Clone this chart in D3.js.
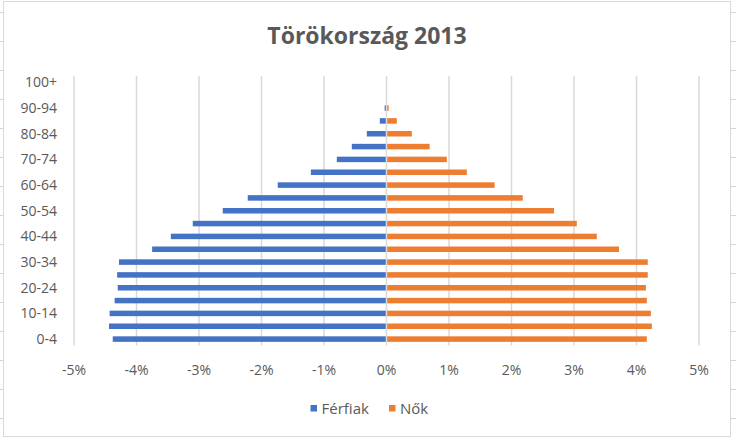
<!DOCTYPE html>
<meta charset="utf-8">
<style>
  body { margin: 0; background: #fff; font-family: "Open Sans", sans-serif; }
  .grid line { stroke: #d9d9d9; stroke-width: 1.5; }
  .tick-label { fill: #595959; font-size: 14px; }
  .title { fill: #595959; font-size: 23px; font-weight: bold; }
  .legend text { fill: #595959; font-size: 15px; }
</style>
<body>
<script src="https://d3js.org/d3.v7.min.js"></script>
<script>
var ageGroups = ["0-4", "5-9", "10-14", "15-19", "20-24", "25-29", "30-34", "35-39",
  "40-44", "45-49", "50-54", "55-59", "60-64", "65-69", "70-74", "75-79",
  "80-84", "85-89", "90-94", "95-99", "100+"];
// percent of total population, men shown on the left
var ferfiak = [-4.38, -4.44, -4.43, -4.35, -4.30, -4.31, -4.28, -3.75, -3.45, -3.10,
  -2.62, -2.22, -1.74, -1.21, -0.795, -0.555, -0.315, -0.107, -0.03, -0.004, 0];
var nok = [4.165, 4.245, 4.23, 4.165, 4.15, 4.18, 4.18, 3.72, 3.365, 3.045,
  2.68, 2.18, 1.73, 1.285, 0.965, 0.69, 0.405, 0.165, 0.035, 0.006, 0];
var xTicks = [-5, -4, -3, -2, -1, 0, 1, 2, 3, 4, 5];
var shownLabels = ["0-4", "10-14", "20-24", "30-34", "40-44", "50-54", "60-64",
  "70-74", "80-84", "90-94", "100+"];
var series = [
  { name: "Férfiak", values: ferfiak, color: "#4472C4" },
  { name: "Nők", values: nok, color: "#ED7D31" }
];

var width = 736, height = 438;

var svg = d3.select("body").append("svg")
    .attr("width", width)
    .attr("height", height);

// spreadsheet row lines peeking out beside the chart
for (var yy = 12.5; yy < height; yy += 29) {
  svg.append("line").attr("x1", 0).attr("x2", 3).attr("y1", yy).attr("y2", yy)
    .attr("stroke", "#d4d4d4");
  svg.append("line").attr("x1", 731).attr("x2", 736).attr("y1", yy).attr("y2", yy)
    .attr("stroke", "#d4d4d4");
}

svg.append("rect")
    .attr("x", 3.5).attr("y", 1.5)
    .attr("width", 727).attr("height", 435)
    .attr("fill", "#fff")
    .attr("stroke", "#d9d9d9");

var x = d3.scaleLinear()
    .domain([-5, 5])
    .range([74, 699]);

var y = d3.scaleBand()
    .domain(ageGroups.slice().reverse())
    .range([76, 345.5])
    .paddingInner(0.57)
    .paddingOuter(0.285);

svg.append("text")
    .attr("class", "title")
    .attr("x", 367)
    .attr("y", 44)
    .attr("text-anchor", "middle")
    .text("Törökország 2013");

// gridlines
svg.append("g").attr("class", "grid")
  .selectAll("line")
  .data(xTicks.filter(function(d) { return d !== 0; }))
  .enter().append("line")
    .attr("x1", function(d) { return x(d); })
    .attr("x2", function(d) { return x(d); })
    .attr("y1", 76)
    .attr("y2", 345.5);

// bars
series.forEach(function(s) {
  svg.append("g")
    .selectAll("rect")
    .data(s.values)
    .enter().append("rect")
      .attr("x", function(d) { return Math.min(x(0), x(d)); })
      .attr("width", function(d) { return Math.abs(x(d) - x(0)); })
      .attr("y", function(d, i) { return y(ageGroups[i]); })
      .attr("height", y.bandwidth())
      .attr("fill", s.color);
});

// vertical axis line at 0
svg.append("g").attr("class", "grid")
  .append("line")
    .attr("x1", x(0)).attr("x2", x(0))
    .attr("y1", 76).attr("y2", 345.5);

// y labels
svg.append("g")
  .selectAll("text")
  .data(shownLabels)
  .enter().append("text")
    .attr("class", "tick-label")
    .attr("x", 57)
    .attr("y", function(d) { return y(d) + y.bandwidth() / 2; })
    .attr("dy", "0.35em")
    .attr("text-anchor", "end")
    .text(function(d) { return d; });

// x labels
svg.append("g")
  .selectAll("text")
  .data(xTicks)
  .enter().append("text")
    .attr("class", "tick-label")
    .attr("x", function(d) { return x(d); })
    .attr("y", 374.5)
    .attr("text-anchor", "middle")
    .text(function(d) { return d + "%"; });

// legend
var legend = svg.append("g").attr("class", "legend");
var legendX = [310.5, 389];
series.forEach(function(s, i) {
  legend.append("rect")
    .attr("x", legendX[i]).attr("y", 405)
    .attr("width", 6.5).attr("height", 6.5)
    .attr("fill", s.color);
  legend.append("text")
    .attr("x", legendX[i] + 11)
    .attr("y", 408.5)
    .attr("dy", "0.35em")
    .text(s.name);
});
</script>
</body>
